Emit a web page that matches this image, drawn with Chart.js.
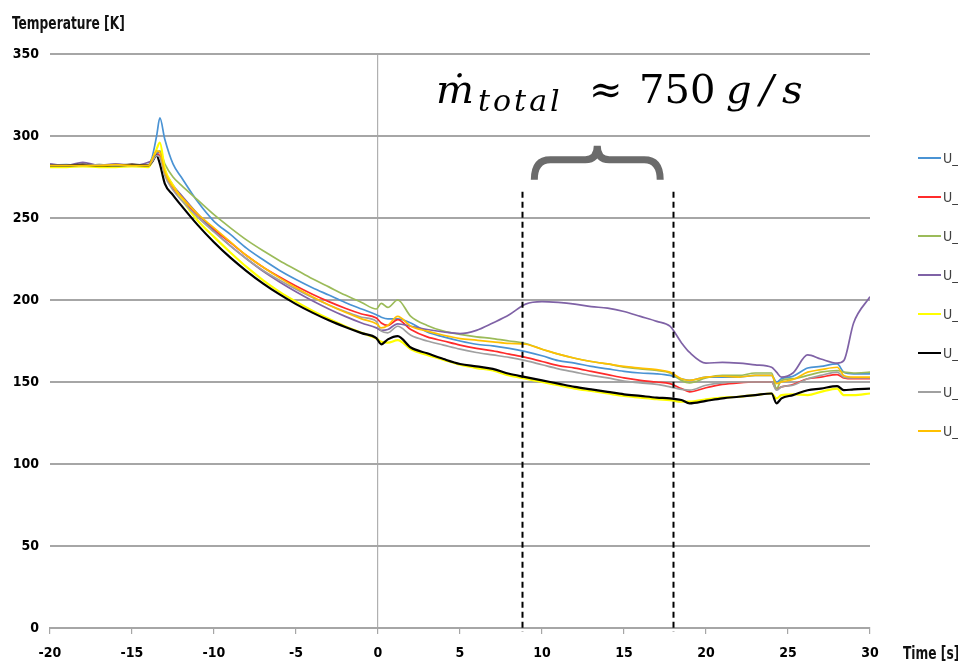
<!DOCTYPE html>
<html>
<head>
<meta charset="utf-8">
<script src="https://cdn.jsdelivr.net/npm/chart.js@4/dist/chart.umd.min.js"></script>
<style>
  html, body { margin: 0; padding: 0; background: #fff; }
  canvas { display: block; }
</style>
</head>
<body>
<canvas id="myChart" width="958" height="671"></canvas>
<script>
// time axis [s]
const times = [-20, -19, -18, -17, -16, -15, -14, -13.8, -13.5, -13.3,
  -13, -12.5, -12, -11, -10, -9, -8, -7, -6, -5,
  -4, -3, -2, -1, -0.1, 0.2, 0.6, 1.2, 2, 3,
  4, 5, 6, 7, 8, 9, 10, 11, 12, 13,
  14, 15, 16, 17, 17.8, 18.5, 19, 20, 21, 22,
  23, 24, 24.3, 24.6, 25.3, 26.2, 27, 28, 28.4, 29, 30];

// temperatures [K], one list per sensor
const blueT = [282, 282.5, 282, 282, 282.5, 282, 282.5, 286, 300, 311,
  298, 283, 275, 260, 248, 240, 231.5, 224.5, 218, 212.5,
  207.5, 203, 198.5, 194.5, 191, 189.5, 188.5, 188.5, 186, 180.5,
  177.5, 175, 173, 172, 170.5, 168.5, 166, 163, 161.5, 159.5,
  158, 156.5, 155.5, 155, 154, 152, 151, 153, 153, 153,
  154, 154, 150, 152, 153.5, 158.5, 159.5, 161, 156, 155, 155];
const redT = [282, 282, 282.5, 282, 282, 282.5, 282, 284, 289, 288,
  277, 268, 262, 252, 243, 235, 227, 220, 214, 208.5,
  203.5, 199, 195, 191.5, 189, 186, 184.5, 188, 182, 177.5,
  175, 172.5, 170.5, 169, 167, 165, 162.5, 160, 158.5, 156.5,
  154.5, 152.5, 151, 150, 149, 146, 144, 146.5, 148.5, 149.5,
  150, 150, 146, 147, 148.5, 152, 153, 154.5, 152.5, 152, 152];
const greenT = [282, 282, 282, 282.5, 282, 282, 282, 286, 290, 291,
  283, 275, 270, 261, 252, 244, 236.5, 230, 224, 218.5,
  213, 208, 203, 198.5, 194.5, 198, 195.5, 200, 190, 184.5,
  181, 179, 177.5, 176.5, 175, 173.5, 170, 167, 164.5, 162.5,
  161, 159, 158, 157, 155.5, 151, 149.5, 152.5, 154, 154,
  155.5, 155.5, 146, 151, 152, 154, 156, 157, 156, 155.5, 156];
const purpleT = [283, 282, 284, 282, 283, 282, 284, 285, 289, 290,
  279, 270, 264, 252.5, 242, 233, 225, 217.5, 211, 205,
  199.5, 194.5, 190, 186, 183, 181.5, 182, 185.5, 184, 182,
  180.5, 179.5, 181.5, 186, 191, 197.5, 199, 198.5, 197.5, 196,
  195, 193, 190, 187, 184, 174, 168, 161.5, 162, 161.5,
  160.5, 159, 156, 153, 155.5, 166.5, 164, 161.5, 163, 186, 202];
const yellowT = [281, 281, 281.5, 281, 281, 281.5, 281, 284, 292, 296,
  280, 270, 262, 248.5, 238.5, 229, 220, 212, 205, 199,
  193.5, 188.5, 184, 180, 176.5, 174.5, 174, 175.5, 170, 166.5,
  163.5, 160.5, 158.5, 157, 154, 152, 150, 148, 146, 144.5,
  143, 141.5, 140.5, 139.5, 139, 138, 138, 139.5, 140.5, 141,
  142, 143, 140, 142, 142.5, 142, 144, 146, 142, 142, 143];
const blackT = [282, 282, 282.5, 282, 282, 282.5, 282, 284, 288, 283,
  271, 264, 257.7, 245.8, 235.2, 225.8, 217.5, 210, 203.4, 197.5,
  192.3, 187.6, 183.5, 179.8, 176.8, 173, 176, 178, 171, 167.5,
  164, 161, 159.5, 158, 155, 153, 151, 149, 147, 145.5,
  144, 142.5, 141.5, 140.5, 140, 139, 137, 138.5, 140, 141,
  142, 143, 137, 140, 142, 145, 146, 147.5, 145, 145.5, 146];
const grayT = [282, 282, 282, 282.5, 282, 282, 282, 284, 288, 287,
  276, 267, 261, 250.5, 241.5, 233, 225, 218, 212, 206.5,
  201.5, 197, 193, 189.5, 187, 181, 180, 184, 178.5, 175,
  172.5, 170, 168, 166.5, 165, 163, 160.5, 158, 156, 154,
  152.5, 150.5, 149.5, 148.5, 147, 145.5, 145, 148, 149.5, 150,
  150, 150, 145, 147, 148, 152, 154, 156, 153, 152.5, 152.5];
const orangeT = [282, 282, 282, 282, 282.5, 282, 282, 285, 291, 290,
  278, 269, 263, 252.5, 244, 235.5, 227, 220, 213.5, 207.5,
  202, 197, 192.5, 188.5, 185.5, 183, 184.5, 190, 184, 181,
  178.5, 176.5, 175.5, 174.5, 173.5, 173, 170, 167, 164.5, 162.5,
  161, 159.5, 158.5, 157.5, 156, 152, 151, 153, 153.5, 153,
  154, 154, 149, 150, 151.5, 156, 157.5, 159, 154, 153, 153];

const seriesLabels = ['U_', 'U_', 'U_', 'U_', 'U_', 'U_', 'U_', 'U_'];
const seriesValues = [blueT, redT, greenT, purpleT, yellowT, blackT, grayT, orangeT];
const seriesColors = ['#4a93d4', '#ff2b2b', '#9bbb59', '#7f62a6', '#ffff00', '#000000', '#a0a0a0', '#ffc000'];

const yTicks = [0, 50, 100, 150, 200, 250, 300, 350];
const xTicks = [-20, -15, -10, -5, 0, 5, 10, 15, 20, 25, 30];

// annotation: window of total mass flow
const windowStart = 8.8;
const windowEnd = 18;
const windowTop = 266;

const FONT = "'DejaVu Sans Condensed', 'DejaVu Sans', sans-serif";
const MATH = "'DejaVu Serif', 'Liberation Serif', serif";

const datasets = seriesValues.map(function (vals, i) {
  return {
    label: seriesLabels[i],
    data: vals.map(function (v, j) { return { x: times[j], y: v }; }),
    borderColor: seriesColors[i],
    borderWidth: (i === 4 || i === 5) ? 2.2 : 1.7,
    pointRadius: 0,
    fill: false,
    cubicInterpolationMode: 'monotone',
    order: seriesValues.length - i
  };
});

function squeezedText(ctx, txt, x, y, sx) {
  ctx.save();
  ctx.translate(x, y);
  ctx.scale(sx, 1);
  ctx.fillText(txt, 0, 0);
  ctx.restore();
}

const overlay = {
  id: 'overlay',
  afterDraw(chart) {
    const ctx = chart.ctx;
    const xs = chart.scales.x;
    const ys = chart.scales.y;
    ctx.save();

    // dashed window lines
    ctx.strokeStyle = '#000';
    ctx.lineWidth = 2;
    ctx.setLineDash([6, 4]);
    [windowStart, windowEnd].forEach(function (t) {
      const px = Math.round(xs.getPixelForValue(t)) + 0.5;
      ctx.beginPath();
      ctx.moveTo(px, ys.getPixelForValue(windowTop));
      ctx.lineTo(px, ys.getPixelForValue(0) + 4);
      ctx.stroke();
    });
    ctx.setLineDash([]);

    // curly brace
    const x1 = xs.getPixelForValue(windowStart) + 12;
    const x2 = xs.getPixelForValue(windowEnd) - 13;
    const cx = (x1 + x2) / 2;
    const yb = ys.getPixelForValue(windowTop) - 12;
    const ym = yb - 20;
    const yt = ym - 14;
    const r = 12;
    ctx.strokeStyle = '#6b6b6b';
    ctx.lineWidth = 7;
    ctx.lineCap = 'butt';
    ctx.beginPath();
    ctx.moveTo(x1, yb);
    ctx.quadraticCurveTo(x1, ym, x1 + r + 4, ym);
    ctx.lineTo(cx - r, ym);
    ctx.quadraticCurveTo(cx, ym, cx, yt);
    ctx.quadraticCurveTo(cx, ym, cx + r, ym);
    ctx.lineTo(x2 - r - 4, ym);
    ctx.quadraticCurveTo(x2, ym, x2, yb);
    ctx.stroke();

    // formula text
    ctx.fillStyle = '#000';
    ctx.textBaseline = 'alphabetic';
    ctx.textAlign = 'left';
    const base = 103;
    ctx.font = 'italic 40px ' + MATH;
    ctx.fillText('\u1E41', 436, base);
    ctx.font = 'italic 30px ' + MATH;
    ctx.letterSpacing = '3px';
    ctx.fillText('total', 478, base + 8);
    ctx.letterSpacing = '0px';
    ctx.font = '40px ' + MATH;
    ctx.fillText('\u2248', 589, base);
    ctx.fillText('750', 639, base);
    ctx.font = 'italic 40px ' + MATH;
    ctx.fillText('g', 726, base);
    ctx.fillText('/', 760, base);
    ctx.fillText('s', 782, base);

    // axis titles
    ctx.font = 'bold 17px ' + FONT;
    ctx.fillStyle = '#111';
    squeezedText(ctx, 'Temperature [K]', 12, 29, 0.8);
    squeezedText(ctx, 'Time [s]', 903, 659, 0.8);

    // legend
    ctx.font = '14px ' + FONT;
    ctx.textBaseline = 'middle';
    chart.data.datasets.forEach(function (ds, i) {
      const ly = 158 + 39 * i;
      ctx.strokeStyle = ds.borderColor;
      ctx.lineWidth = 2;
      ctx.beginPath();
      ctx.moveTo(918, ly);
      ctx.lineTo(941, ly);
      ctx.stroke();
      ctx.fillStyle = '#404040';
      ctx.fillText(ds.label, 943, ly + 1);
    });

    ctx.restore();
  }
};

new Chart(document.getElementById('myChart'), {
  type: 'line',
  data: { datasets: datasets },
  options: {
    responsive: false,
    animation: false,
    layout: { padding: { left: 0, top: 54, right: 88, bottom: 0 } },
    plugins: { legend: { display: false }, tooltip: { enabled: false } },
    scales: {
      x: {
        type: 'linear',
        min: xTicks[0],
        max: xTicks[xTicks.length - 1],
        afterBuildTicks: function (scale) { scale.ticks = xTicks.map(function (v) { return { value: v }; }); },
        afterFit: function (scale) { scale.height = 43; },
        ticks: { color: '#000', font: { family: FONT, size: 14, weight: 'bold' }, padding: 11 },
        grid: {
          color: function (c) { return c.tick && c.tick.value === 0 ? '#b0b0b0' : 'rgba(0,0,0,0)'; },
          lineWidth: 1.2,
          tickColor: '#a6a6a6',
          tickLength: 6
        },
        border: { display: true, color: '#a6a6a6', width: 2 }
      },
      y: {
        min: yTicks[0],
        max: yTicks[yTicks.length - 1],
        afterBuildTicks: function (scale) { scale.ticks = yTicks.map(function (v) { return { value: v }; }); },
        afterFit: function (scale) { scale.width = 50; },
        ticks: { color: '#000', font: { family: FONT, size: 14, weight: 'bold' }, padding: 11 },
        grid: { color: '#a6a6a6', lineWidth: 2, drawTicks: false },
        border: { display: false }
      }
    }
  },
  plugins: [overlay]
});
</script>
</body>
</html>
